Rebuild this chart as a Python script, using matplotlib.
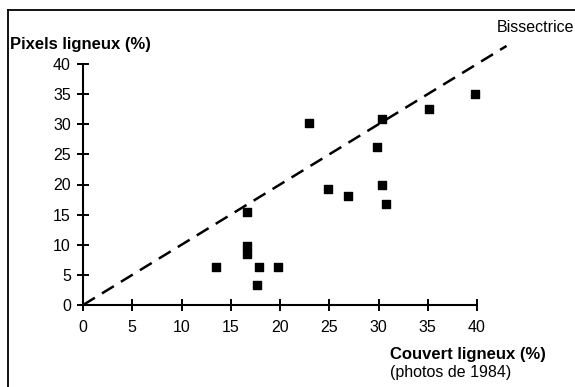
import matplotlib
matplotlib.use("Agg")
import matplotlib.pyplot as plt
from matplotlib.lines import Line2D

plt.rcParams['font.family'] = ['Liberation Sans', 'DejaVu Sans']
plt.rcParams['lines.scale_dashes'] = False

# Data: couvert ligneux (photos 1984) vs pixels ligneux
couvert = [13.5, 16.7, 16.7, 16.7, 17.9, 17.7, 19.8, 22.9, 24.9, 26.9,
           29.8, 30.4, 30.4, 30.8, 35.1, 39.8]
pixels = [6.35, 15.4, 9.8, 8.5, 6.35, 3.4, 6.35, 30.2, 19.2, 18.1,
          26.2, 30.9, 19.9, 16.7, 32.5, 35.0]
bissectrice = [0, 43]
ticks = [0, 5, 10, 15, 20, 25, 30, 35, 40]

W, H = 575, 387
fig = plt.figure(figsize=(W / 100, H / 100), dpi=100)

x0, x1 = 83, 477
y0, y1 = 305, 64
ax = fig.add_axes([x0 / W, (H - y0) / H, (x1 - x0) / W, (y0 - y1) / H])
ax.set_xlim(0, 40)
ax.set_ylim(0, 40)

ax.plot(bissectrice, bissectrice, color='black', lw=1.8,
        dashes=(10, 6), clip_on=False)
ax.scatter(couvert, pixels, marker='s', s=30, color='black', zorder=3,
           clip_on=False)

for s in ['top', 'right']:
    ax.spines[s].set_visible(False)
for s in ['left', 'bottom']:
    ax.spines[s].set_linewidth(1.5)
ax.set_xticks(ticks)
ax.set_yticks(ticks)
ax.tick_params(direction='inout', length=8.5, width=1.4, labelsize=11.5)
ax.tick_params(axis='x', pad=6.5)
ax.tick_params(axis='y', pad=4.5)

fig.text(10 / W, 1 - 45 / H, 'Pixels ligneux (%)', fontsize=12,
         fontweight='bold', va='center', ha='left')
fig.text(497 / W, 1 - 27 / H, 'Bissectrice', fontsize=11.5,
         va='center', ha='left')
fig.text(390 / W, 1 - 355 / H, 'Couvert ligneux (%)', fontsize=12,
         fontweight='bold', va='center', ha='left')
fig.text(390 / W, 1 - 373 / H, '(photos de 1984)', fontsize=11.5,
         va='center', ha='left')

# frame
fig.add_artist(Line2D([8 / W, 1.0], [1 - 10 / H, 1 - 10 / H],
                      color='black', lw=1.3, transform=fig.transFigure))
fig.add_artist(Line2D([8 / W, 8 / W], [1 - 10 / H, 0.0],
                      color='black', lw=1.3, transform=fig.transFigure))

fig.savefig('out.png', dpi=100)
